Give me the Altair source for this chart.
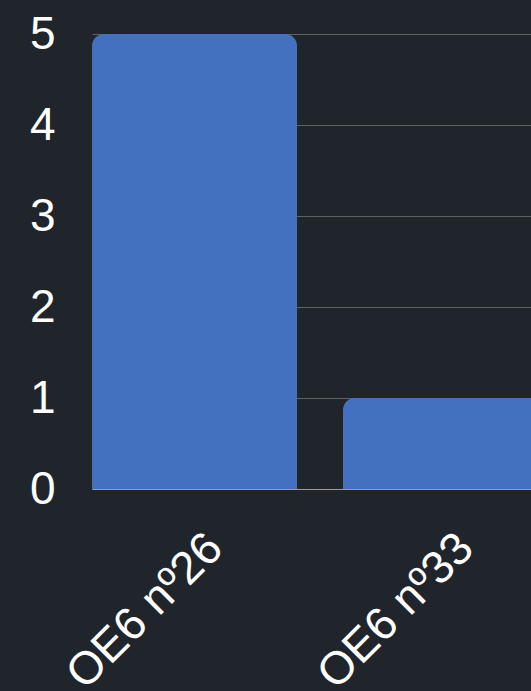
import altair as alt
import pandas as pd

categories = ["OE6 nº26", "OE6 nº33"]
values = [5, 1]

df = pd.DataFrame({"cat": categories, "val": values})

BG = "#1f252b"

chart = alt.Chart(df).mark_bar(
    color="#4470c0",
    cornerRadiusTopLeft=12,
    cornerRadiusTopRight=12,
).encode(
    x=alt.X("cat:N", sort=categories, title=None,
            scale=alt.Scale(paddingInner=0.183, paddingOuter=0),
            axis=alt.Axis(labelAngle=-45, labelFontSize=46, labelColor="#ffffff",
                          labelFont="Liberation Sans", ticks=False, tickSize=0,
                          labelLimit=1000, labelOverlap=False, labelOffset=5,
                          labelPadding=36, domainColor="#9a9c9e", domainWidth=1,
                          grid=False)),
    y=alt.Y("val:Q", title=None,
            scale=alt.Scale(domain=[0, 5], nice=False),
            axis=alt.Axis(values=[0, 1, 2, 3, 4, 5], labelFontSize=46, labelColor="#ffffff",
                          labelFont="Liberation Sans", ticks=False, tickSize=0,
                          labelPadding=37, domain=False, gridColor="#5c6166",
                          gridWidth=1)),
).properties(
    width=456,
    height=455,
    autosize=alt.AutoSizeParams(type="none"),
    padding={"left": 92, "top": 34, "right": -17, "bottom": 200},
    background=BG,
).configure_view(stroke=None)

chart.save("out.html", embed_options={"renderer": "svg", "actions": False,
                                      "defaultStyle": "html, body { background: " + BG + "; margin: 0; padding: 0; overflow: hidden; } svg { display: block; }"})
